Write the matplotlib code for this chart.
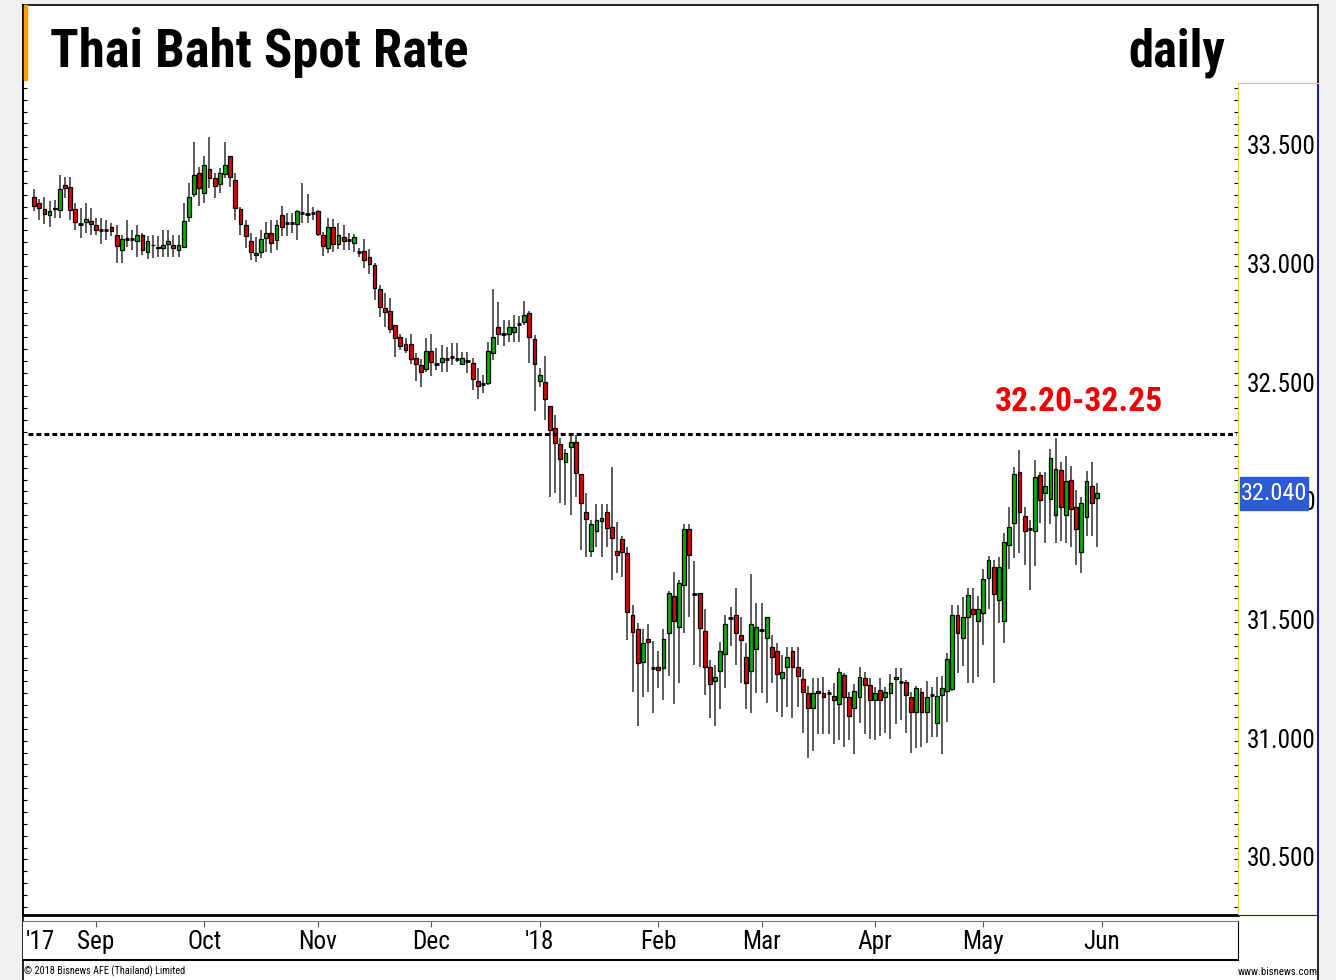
import matplotlib
matplotlib.use("Agg")
import matplotlib.pyplot as plt
from matplotlib import font_manager as fm
from matplotlib.patches import Rectangle
from matplotlib.ticker import FixedLocator
import numpy as np
import pandas as pd

# pick a narrow sans with a real bold face, like the original's Arial Narrow
weights = {}
for f in fm.fontManager.ttflist:
    w = f.weight if isinstance(f.weight, int) else 400
    weights.setdefault(f.name, set()).add(w)
prefer = ['Liberation Sans Narrow', 'Arial Narrow', 'Roboto Condensed', 'PT Sans Narrow',
          'Archivo Narrow', 'Arimo', 'Liberation Sans']
narrow = next((n for n in prefer if n in weights and max(weights[n]) >= 700), 'DejaVu Sans')
plt.rcParams['font.family'] = [narrow, 'DejaVu Sans']

# ---- data ----
first_day = "2017-08-16"
opens = [33.289, 33.264, 33.240, 33.216, 33.238, 33.236, 33.340, 33.331, 33.240, 33.178,
         33.185, 33.191, 33.171, 33.150, 33.150, 33.163, 33.131, 33.067, 33.114, 33.114,
         33.107, 33.131, 33.059, 33.090, 33.081, 33.074, 33.094, 33.088, 33.067, 33.081,
         33.204, 33.303, 33.390, 33.306, 33.407, 33.372, 33.345, 33.388, 33.461, 33.362,
         33.240, 33.171, 33.103, 33.045, 33.059, 33.117, 33.140, 33.109, 33.213, 33.179,
         33.179, 33.177, 33.221, 33.220, 33.221, 33.230, 33.130, 33.074, 33.162, 33.092,
         33.122, 33.110, 33.095, 33.060, 33.063, 33.039, 33.004, 32.903, 32.821, 32.811,
         32.751, 32.702, 32.671, 32.671, 32.611, 32.583, 32.564, 32.643, 32.585, 32.595,
         32.607, 32.615, 32.608, 32.587, 32.601, 32.592, 32.517, 32.501, 32.505, 32.632,
         32.744, 32.712, 32.714, 32.723, 32.754, 32.765, 32.801, 32.693, 32.516, 32.510,
         32.410, 32.319, 32.250, 32.176, 32.236, 32.259, 32.124, 31.962, 31.801, 31.885,
         31.924, 31.962, 31.899, 31.799, 31.849, 31.790, 31.530, 31.469, 31.333, 31.427,
         31.308, 31.310, 31.305, 31.455, 31.611, 31.481, 31.656, 31.891, 31.620, 31.621,
         31.462, 31.309, 31.253, 31.295, 31.364, 31.519, 31.530, 31.444, 31.352, 31.295,
         31.385, 31.467, 31.432, 31.394, 31.380, 31.263, 31.312, 31.380, 31.309, 31.260,
         31.200, 31.137, 31.210, 31.200, 31.200, 31.189, 31.155, 31.277, 31.183, 31.137,
         31.186, 31.263, 31.235, 31.172, 31.214, 31.186, 31.203, 31.259, 31.249, 31.249,
         31.183, 31.123, 31.207, 31.123, 31.193, 31.074, 31.193, 31.211, 31.217, 31.530,
         31.432, 31.523, 31.554, 31.506, 31.540, 31.684, 31.731, 31.593, 31.506, 31.825,
         31.916, 32.131, 31.948, 31.891, 31.885, 32.120, 32.045, 32.017, 31.951, 32.141,
         31.951, 32.099, 31.986, 31.793, 31.944, 32.073, 32.021]
highs = [33.324, 33.282, 33.292, 33.274, 33.278, 33.383, 33.376, 33.373, 33.264, 33.243,
         33.264, 33.243, 33.201, 33.201, 33.194, 33.180, 33.173, 33.131, 33.194, 33.152,
         33.173, 33.138, 33.124, 33.131, 33.124, 33.152, 33.152, 33.131, 33.131, 33.264,
         33.351, 33.524, 33.418, 33.461, 33.542, 33.390, 33.411, 33.524, 33.461, 33.390,
         33.250, 33.194, 33.138, 33.121, 33.152, 33.187, 33.194, 33.194, 33.252, 33.221,
         33.224, 33.236, 33.351, 33.302, 33.249, 33.236, 33.144, 33.200, 33.196, 33.182,
         33.172, 33.137, 33.133, 33.074, 33.112, 33.070, 33.014, 32.920, 32.884, 32.863,
         32.751, 32.713, 32.695, 32.713, 32.635, 32.607, 32.695, 32.713, 32.653, 32.667,
         32.660, 32.677, 32.677, 32.639, 32.639, 32.611, 32.569, 32.540, 32.681, 32.902,
         32.846, 32.772, 32.772, 32.794, 32.787, 32.854, 32.808, 32.710, 32.569, 32.621,
         32.410, 32.373, 32.274, 32.228, 32.288, 32.288, 32.124, 32.042, 31.930, 31.999,
         31.999, 31.999, 32.152, 31.923, 31.863, 31.814, 31.572, 31.495, 31.469, 31.492,
         31.422, 31.380, 31.469, 31.631, 31.712, 31.675, 31.913, 31.913, 31.755, 31.621,
         31.554, 31.340, 31.319, 31.418, 31.530, 31.562, 31.642, 31.523, 31.410, 31.703,
         31.582, 31.579, 31.520, 31.446, 31.411, 31.361, 31.394, 31.394, 31.394, 31.301,
         31.231, 31.263, 31.263, 31.270, 31.214, 31.242, 31.305, 31.284, 31.207, 31.239,
         31.312, 31.291, 31.263, 31.228, 31.263, 31.228, 31.281, 31.305, 31.305, 31.256,
         31.207, 31.231, 31.221, 31.253, 31.228, 31.270, 31.273, 31.371, 31.572, 31.572,
         31.604, 31.642, 31.642, 31.610, 31.722, 31.779, 31.762, 31.773, 31.874, 31.984,
         32.152, 32.225, 31.986, 31.930, 32.183, 32.130, 32.134, 32.228, 32.274, 32.172,
         32.200, 32.158, 32.056, 32.026, 32.138, 32.173, 32.085]
lows = [33.233, 33.194, 33.175, 33.166, 33.201, 33.201, 33.285, 33.194, 33.152, 33.117,
        33.138, 33.131, 33.131, 33.093, 33.110, 33.124, 33.014, 33.014, 33.081, 33.067,
        33.037, 33.046, 33.028, 33.032, 33.037, 33.037, 33.039, 33.037, 33.039, 33.074,
        33.187, 33.292, 33.253, 33.264, 33.327, 33.285, 33.306, 33.369, 33.334, 33.194,
        33.131, 33.074, 33.025, 33.018, 33.032, 33.060, 33.056, 33.067, 33.126, 33.126,
        33.140, 33.109, 33.179, 33.182, 33.193, 33.126, 33.042, 33.056, 33.060, 33.070,
        33.067, 33.067, 33.060, 33.039, 32.990, 32.966, 32.856, 32.786, 32.744, 32.716,
        32.615, 32.646, 32.632, 32.587, 32.517, 32.489, 32.554, 32.536, 32.562, 32.554,
        32.554, 32.583, 32.597, 32.583, 32.547, 32.477, 32.438, 32.463, 32.498, 32.604,
        32.667, 32.663, 32.681, 32.681, 32.681, 32.751, 32.590, 32.387, 32.489, 32.352,
        32.026, 32.045, 32.003, 31.993, 31.951, 32.026, 31.804, 31.776, 31.776, 31.818,
        31.776, 31.818, 31.677, 31.705, 31.691, 31.425, 31.207, 31.060, 31.186, 31.207,
        31.116, 31.221, 31.172, 31.273, 31.155, 31.245, 31.455, 31.523, 31.319, 31.312,
        31.193, 31.095, 31.062, 31.133, 31.221, 31.397, 31.319, 31.245, 31.133, 31.116,
        31.200, 31.203, 31.161, 31.242, 31.123, 31.102, 31.144, 31.095, 31.144, 31.034,
        30.926, 30.958, 31.029, 31.029, 31.029, 30.987, 31.003, 30.975, 31.003, 30.944,
        31.074, 31.029, 31.006, 31.003, 31.020, 31.034, 31.006, 31.071, 31.088, 31.031,
        30.950, 30.968, 30.975, 30.989, 31.017, 31.014, 30.944, 31.081, 31.211, 31.284,
        31.315, 31.242, 31.242, 31.270, 31.404, 31.554, 31.245, 31.498, 31.413, 31.722,
        31.769, 31.792, 31.741, 31.635, 31.736, 31.916, 31.832, 31.913, 31.835, 31.843,
        31.835, 31.815, 31.741, 31.708, 31.863, 31.863, 31.815]
closes = [33.253, 33.244, 33.218, 33.230, 33.242, 33.323, 33.327, 33.236, 33.187, 33.178,
          33.199, 33.176, 33.153, 33.150, 33.150, 33.145, 33.084, 33.112, 33.114, 33.114,
          33.131, 33.067, 33.104, 33.086, 33.074, 33.088, 33.103, 33.074, 33.088, 33.191,
          33.291, 33.382, 33.327, 33.423, 33.369, 33.337, 33.390, 33.423, 33.376, 33.243,
          33.177, 33.126, 33.059, 33.053, 33.112, 33.138, 33.095, 33.171, 33.165, 33.179,
          33.179, 33.230, 33.221, 33.220, 33.221, 33.134, 33.084, 33.162, 33.092, 33.130,
          33.106, 33.110, 33.120, 33.060, 33.025, 33.007, 32.905, 32.826, 32.804, 32.733,
          32.695, 32.664, 32.646, 32.607, 32.587, 32.554, 32.643, 32.595, 32.585, 32.611,
          32.607, 32.615, 32.608, 32.611, 32.601, 32.522, 32.494, 32.501, 32.643, 32.702,
          32.714, 32.712, 32.744, 32.744, 32.754, 32.794, 32.700, 32.587, 32.541, 32.439,
          32.307, 32.253, 32.186, 32.211, 32.259, 32.127, 32.003, 31.933, 31.912, 31.930,
          31.940, 31.895, 31.853, 31.784, 31.794, 31.544, 31.457, 31.326, 31.411, 31.415,
          31.308, 31.296, 31.427, 31.621, 31.506, 31.663, 31.891, 31.783, 31.620, 31.474,
          31.312, 31.238, 31.270, 31.380, 31.492, 31.519, 31.455, 31.425, 31.245, 31.492,
          31.481, 31.467, 31.520, 31.354, 31.281, 31.291, 31.352, 31.312, 31.273, 31.204,
          31.137, 31.200, 31.200, 31.186, 31.200, 31.172, 31.291, 31.183, 31.104, 31.210,
          31.270, 31.235, 31.172, 31.203, 31.172, 31.207, 31.242, 31.270, 31.249, 31.193,
          31.123, 31.221, 31.123, 31.183, 31.193, 31.189, 31.221, 31.343, 31.530, 31.455,
          31.520, 31.614, 31.534, 31.554, 31.680, 31.762, 31.617, 31.731, 31.839, 31.899,
          32.124, 31.965, 31.884, 31.891, 32.110, 32.012, 32.073, 32.190, 32.144, 31.983,
          32.092, 31.975, 31.892, 32.000, 32.092, 32.003, 32.042]

price_ticks = [30.5, 31.0, 31.5, 32.0, 32.5, 33.0, 33.5]
resistance = 32.29
resistance_label = "32.20-32.25"
last_label = "32.040"
title = "Thai Baht Spot Rate"
period = "daily"
copyright_note = "\u00a9 2018 Bisnews AFE (Thailand) Limited"
site = "www.bisnews.com"

o = np.array(opens); h = np.array(highs); l = np.array(lows); c = np.array(closes)
dates = pd.bdate_range(first_day, periods=len(o))
x = np.arange(len(dates))

# month starts (weekday index) including the following June
axis_days = pd.bdate_range(first_day, "2018-06-01")
month_pos, month_lab = [], []
for i in range(1, len(axis_days)):
    if axis_days[i].month != axis_days[i - 1].month:
        month_pos.append(i)
        d = axis_days[i]
        month_lab.append("'" + d.strftime("%y") if d.month == 1 else d.strftime("%b"))

W, H = 1336, 980
def box(left, top, right, bottom):
    return [left / W, 1 - bottom / H, (right - left) / W, (bottom - top) / H]

fig = plt.figure(figsize=(W / 100, H / 100), dpi=100, facecolor="#f0f0f0")
renderer = fig.canvas.get_renderer()

def fit(texts, width_px):
    # scale font size so the first text spans width_px pixels
    w = texts[0].get_window_extent(renderer).width
    size = texts[0].get_fontsize() * width_px / w
    for t in texts:
        t.set_fontsize(size)

# white outer frame
frame = fig.add_axes(box(23, 5, 1318, 980))
frame.set_xticks([]); frame.set_yticks([])
frame.set_facecolor("white")
for s in ["top", "left", "right"]:
    frame.spines[s].set_color("black"); frame.spines[s].set_linewidth(1.2)
frame.spines["bottom"].set_visible(False)
fig.add_artist(Rectangle((24 / W, 1 - 80 / H), 3 / W, 75 / H, transform=fig.transFigure,
                         color="#ff9900", zorder=5))

# price panel
xlim = (-2.15, 233.36)
scale_top = 33.771
minor_levels = np.round(np.arange(30.30, scale_top, 0.05), 2)
ax = fig.add_axes(box(23, 5, 1238, 915))
ax.set_facecolor("none")
ax.set_xlim(*xlim)
ax.set_ylim(30.266, 34.099)
ax.set_xticks([])
ax.yaxis.set_major_locator(FixedLocator(minor_levels))
ax.tick_params(axis="y", direction="in", length=3, width=0.8, left=True, right=False,
               labelleft=False)
ax.spines["top"].set_visible(False)
ax.spines["right"].set_visible(False)
ax.spines["left"].set_linewidth(1.2)
ax.spines["bottom"].set_linewidth(2)

ax.vlines(x, l, h, color="#303030", lw=1.1, zorder=2)
body_lo = np.minimum(o, c)
body_h = np.abs(c - o)
up = c > o
down = c < o
flat = c == o
ax.bar(x[up], body_h[up], bottom=body_lo[up], width=0.74, color="#00b000",
       edgecolor="black", linewidth=0.9, zorder=3)
ax.bar(x[down], body_h[down], bottom=body_lo[down], width=0.74, color="#e00000",
       edgecolor="black", linewidth=0.9, zorder=3)
ax.hlines(o[flat], x[flat] - 0.4, x[flat] + 0.4, color="black", lw=2, zorder=3)

ax.axhline(resistance, xmin=0.004, xmax=0.998, color="black", lw=2.2,
           ls=(0, (1.6, 1.0)), zorder=4)
zone = ax.text(x[-1] - 3.5, resistance + 0.1, resistance_label, color="#ee0000",
               fontsize=30, fontweight="bold", ha="center", va="baseline")
fit([zone], 168)

t_title = fig.text(50 / W, 1 - 67 / H, title, fontsize=46, fontweight="bold", va="baseline")
fit([t_title], 418)
t_period = fig.text(1225 / W, 1 - 67 / H, period, fontsize=46, fontweight="bold",
                    va="baseline", ha="right")
fit([t_period], 97)

# right price scale
ax2 = fig.add_axes(box(1238, 83, 1318, 915))
ax2.set_ylim(30.266, scale_top)
ax2.set_xticks([])
ax2.yaxis.set_major_locator(FixedLocator(minor_levels))
ax2.tick_params(axis="y", direction="out", length=3, width=0.8, labelleft=False)
ax2.spines["left"].set_color("#f5c842"); ax2.spines["top"].set_color("#f5c842")
ax2.spines["right"].set_color("#1a237e"); ax2.spines["right"].set_linewidth(1.5)
ax2.spines["bottom"].set_color("#1a237e")
ticks_txt = [ax2.text(0.975, p, f"{p:.3f}", transform=ax2.get_yaxis_transform(),
                      ha="right", va="center", fontsize=21, zorder=1)
             for p in price_ticks]
fit(ticks_txt, 69)
ax2.add_patch(Rectangle((0.025, c[-1] - 0.068), 0.85, 0.138,
                        transform=ax2.get_yaxis_transform(), color="#2d5bd6", zorder=2))
last_txt = ax2.text(0.45, c[-1], last_label, transform=ax2.get_yaxis_transform(),
                    ha="center", va="center", fontsize=21, color="white", zorder=3)
fit([last_txt], 66)

# date axis
ax3 = fig.add_axes(box(23, 921, 1238, 960))
ax3.set_xlim(*xlim)
ax3.set_ylim(0, 1)
ax3.set_yticks([])
ax3.xaxis.tick_top()
ax3.set_xticks(month_pos)
ax3.tick_params(axis="x", direction="in", length=4, labeltop=False, color="#555555")
ax3.spines["left"].set_visible(False)
ax3.spines["top"].set_color("#777777")
ax3.spines["bottom"].set_linewidth(1.5)
month_txt = [ax3.text(pos, 0.45, lab, ha="center", va="center", fontsize=22)
             for pos, lab in zip(month_pos, month_lab)]
month_txt.append(ax3.text(0.014, 0.45, "'" + dates[0].strftime("%y"),
                          transform=ax3.transAxes, ha="center", va="center", fontsize=22))
fit([month_txt[2]] + month_txt, 39)   # "Nov" is about 39 px wide

foot1 = fig.text(24 / W, 1 - 971 / H, copyright_note, fontsize=7.5, va="center")
fit([foot1], 160)
foot2 = fig.text(1318 / W, 1 - 972 / H, site, fontsize=7.5, va="center", ha="right")
fit([foot2], 80)

fig.savefig("out.png", dpi=100, facecolor=fig.get_facecolor())
